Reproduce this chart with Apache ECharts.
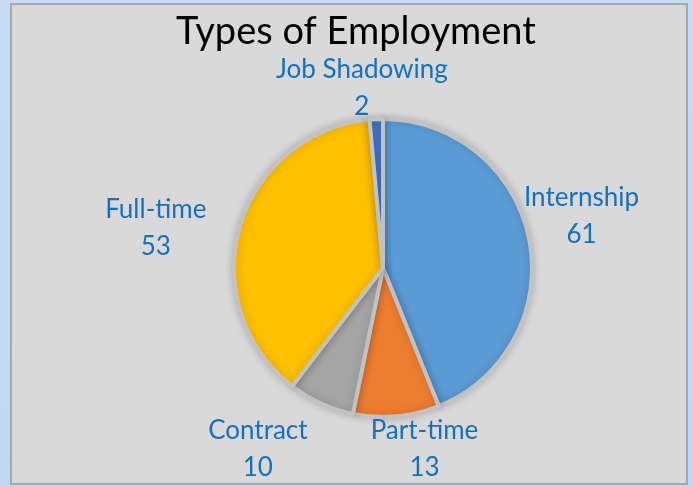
<!DOCTYPE html>
<html>
<head>
<meta charset="utf-8">
<script src="https://cdn.jsdelivr.net/npm/echarts@6/dist/echarts.min.js"></script>
<style>
  html, body { margin: 0; padding: 0; width: 693px; height: 487px; overflow: hidden;
    background: linear-gradient(180deg, #c9dcf6 0%, #c2d7f4 100%); }
  #chart { position: absolute; left: 10px; top: 3px; width: 674px; height: 478px;
    background: #d9d9d9; border: 2px solid #a8a8a8; }
</style>
</head>
<body>
<div id="chart"></div>
<script>
// Types of employment (counts), clockwise from 12 o'clock
const CATEGORIES = ["Internship", "Part-time", "Contract", "Full-time", "Job Shadowing"];
const COUNTS = [61, 13, 10, 53, 2];
const COLORS = ["#5b9bd5", "#ed7d31", "#a5a5a5", "#ffc000", "#4472c4"];

// Excel's "best fit" puts the labels a bit differently from echarts' outside layout,
// so nudge each one off where echarts put it.
const labelNudge = [[-23, -21], [-32, 20], [-3, 34], [-16, 5], [77, -18]];

const ch = echarts.init(document.getElementById("chart"));
ch.setOption({
  backgroundColor: "transparent",
  animation: false,
  title: {
    text: "Types of Employment",
    left: 339,
    textAlign: "center",
    top: 3,
    textStyle: { fontFamily: "Lato", fontSize: 38, fontWeight: "normal", color: "#000000" },
  },
  series: [
    {
      type: "pie",
      center: [371, 263],
      radius: 149,
      startAngle: 90,
      clockwise: true,
      avoidLabelOverlap: false,
      data: CATEGORIES.map((name, i) => ({ name, value: COUNTS[i], itemStyle: { color: COLORS[i] } })),
      itemStyle: {
        borderColor: "#c2c2c2",
        borderWidth: 4,
        shadowBlur: 8,
        shadowColor: "rgba(0,0,0,0.18)",
      },
      label: {
        show: true,
        position: "outside",
        formatter: "{b}\n{c}",
        fontFamily: "Lato",
        fontSize: 26,
        lineHeight: 37,
        color: "#1470c0",
      },
      labelLine: { show: false, length: 13, length2: 0 },
      labelLayout: (p) => {
        const [dx, dy] = labelNudge[p.dataIndex];
        return {
          x: p.labelRect.x + p.labelRect.width / 2 + dx,
          y: p.labelRect.y + p.labelRect.height / 2 + dy,
          align: "center",
          verticalAlign: "middle",
        };
      },
      emphasis: { disabled: true },
    },
  ],
});
</script>
</body>
</html>
